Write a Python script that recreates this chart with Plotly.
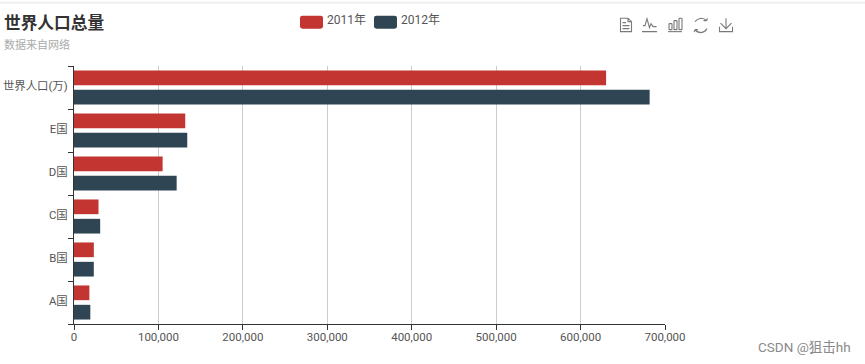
import plotly.graph_objects as go

categories = ["A国", "B国", "C国", "D国", "E国", "世界人口(万)"]
values_2011 = [18203, 23489, 29034, 104970, 131744, 630230]
values_2012 = [19325, 23438, 31000, 121594, 134141, 681807]
x_ticks = [0, 100000, 200000, 300000, 400000, 500000, 600000, 700000]
x_labels = ["0", "100,000", "200,000", "300,000", "400,000", "500,000", "600,000", "700,000"]
series_names = ["2011年", "2012年"]
colors = ["#c23531", "#2f4554"]

W, H = 865, 364
L, R, T, B = 74, 200, 65.5, 39.5
FONT = "Roboto, Noto Sans CJK SC, sans-serif"


def px(x):
    return (x - L) / (W - L - R)


def py(y):
    return 1 - (y - T) / (H - T - B)


def path(*cmds):
    out = []
    for c in cmds:
        if isinstance(c, str):
            out.append(c)
        else:
            out.append(f"{px(c[0]):.5f},{py(c[1]):.5f}")
    return " ".join(out)


def rounded(x0, y0, x1, y1, r=2.5):
    return path("M", (x0 + r, y0), "L", (x1 - r, y0), "Q", (x1, y0), (x1, y0 + r),
                "L", (x1, y1 - r), "Q", (x1, y1), (x1 - r, y1),
                "L", (x0 + r, y1), "Q", (x0, y1), (x0, y1 - r),
                "L", (x0, y0 + r), "Q", (x0, y0), (x0 + r, y0), "Z")


def icon(d, color="#7a7a7a", width=1.1):
    return dict(type="path", xref="paper", yref="paper", path=d,
                line=dict(color=color, width=width), fillcolor="rgba(0,0,0,0)")


shapes = [
    dict(type="line", xref="paper", yref="paper", x0=px(0), x1=px(W), y0=py(2), y1=py(2),
         line=dict(color="#eeeeee", width=2)),
    dict(type="path", xref="paper", yref="paper", path=rounded(300, 15, 323, 28),
         fillcolor=colors[0], line=dict(width=0)),
    dict(type="path", xref="paper", yref="paper", path=rounded(374, 15, 397, 28),
         fillcolor=colors[1], line=dict(width=0)),
    icon(path("M", (620.5, 17.5), "L", (628, 17.5), "L", (631.5, 21), "L", (631.5, 31),
              "L", (620.5, 31), "Z", "M", (628, 17.5), "L", (628, 21), "L", (631.5, 21),
              "M", (622.5, 22), "L", (626, 22), "M", (622.5, 25), "L", (629.5, 25),
              "M", (622.5, 28), "L", (629.5, 28))),
    icon(path("M", (642, 31), "L", (657, 31), "M", (643, 25), "L", (645, 25), "L", (647, 18),
              "L", (649.5, 27), "L", (651, 23), "L", (653, 26), "L", (656.5, 26))),
    icon(path("M", (668, 31), "L", (682, 31))),
    icon(rounded(669, 23, 672, 29, 0.5)),
    icon(rounded(674, 20, 677, 29, 0.5)),
    icon(rounded(679, 17.5, 682, 29, 0.5)),
    icon(path("M", (695, 21), "Q", (697, 18), (701, 17.5), "Q", (704.5, 17.5), (706.5, 20),
              "M", (706.5, 20), "L", (707.5, 17.5), "M", (706.5, 20), "L", (703.5, 20),
              "M", (707, 28), "Q", (705, 31.5), (701, 32), "Q", (697, 32), (695, 29),
              "M", (695, 29), "L", (694, 31.5), "M", (695, 29), "L", (698, 29))),
    icon(path("M", (726, 17.5), "L", (726, 28), "M", (720.5, 22.5), "L", (726, 28), "L", (731.5, 22.5),
              "M", (719.5, 26), "L", (719.5, 31), "L", (732.5, 31), "L", (732.5, 26))),
]

annotations = [
    dict(text="<b>世界人口总量</b>", x=px(4), y=py(22.5), xanchor="left", yanchor="middle",
         font=dict(size=16.7, color="#333333", family=FONT)),
    dict(text="数据来自网络", x=px(4), y=py(44.5), xanchor="left", yanchor="middle",
         font=dict(size=11, color="#aaaaaa", family=FONT)),
    dict(text=series_names[0], x=px(327), y=py(19.5), xanchor="left", yanchor="middle",
         font=dict(size=12, color="#555555", family=FONT)),
    dict(text=series_names[1], x=px(401), y=py(19.5), xanchor="left", yanchor="middle",
         font=dict(size=12, color="#555555", family=FONT)),
    dict(text="CSDN @狙击hh", x=px(851), y=py(348), xanchor="right", yanchor="middle",
         font=dict(size=13.5, color="#8a8a8a", family=FONT)),
]
for a in annotations:
    a.update(xref="paper", yref="paper", showarrow=False, borderpad=0, borderwidth=0)

fig = go.Figure()
for name, vals, col in [(series_names[1], values_2012, colors[1]),
                        (series_names[0], values_2011, colors[0])]:
    fig.add_trace(go.Bar(y=categories, x=vals, name=name, orientation="h",
                         marker=dict(color=col, line=dict(width=0)),
                         hovertemplate="%{y}<br>" + name + ": %{x:,}<extra></extra>"))

fig.update_layout(
    width=W, height=H, autosize=False,
    margin=dict(l=L, r=R, t=T, b=B, pad=0),
    paper_bgcolor="white", plot_bgcolor="white",
    barmode="group", bargap=0.1, bargroupgap=0.24,
    showlegend=False,
    font=dict(family=FONT, size=12, color="#555555"),
    shapes=shapes, annotations=annotations,
    xaxis=dict(range=[0, 700000], tickvals=x_ticks, ticktext=x_labels, automargin=False,
               showgrid=True, gridcolor="#cccccc", gridwidth=1, zeroline=False,
               showline=True, linecolor="#333333", linewidth=1,
               ticks="outside", ticklen=5, tickcolor="#333333", tickwidth=1,
               ticklabelstandoff=-3,
               tickfont=dict(size=11.5, color="#555555")),
    yaxis=dict(type="category", categoryorder="array", categoryarray=categories, automargin=False,
               showgrid=False, zeroline=False,
               showline=True, linecolor="#333333", linewidth=1,
               ticks="outside", ticklen=5, tickcolor="#333333", tickwidth=1,
               tickson="boundaries", ticklabelstandoff=3, ticklabelshift=-2,
               tickfont=dict(size=11.4, color="#555555")),
)
fig.write_html("out.html", config={"displayModeBar": False},
               post_script="document.body.style.margin='0';document.documentElement.style.overflow='hidden';")
